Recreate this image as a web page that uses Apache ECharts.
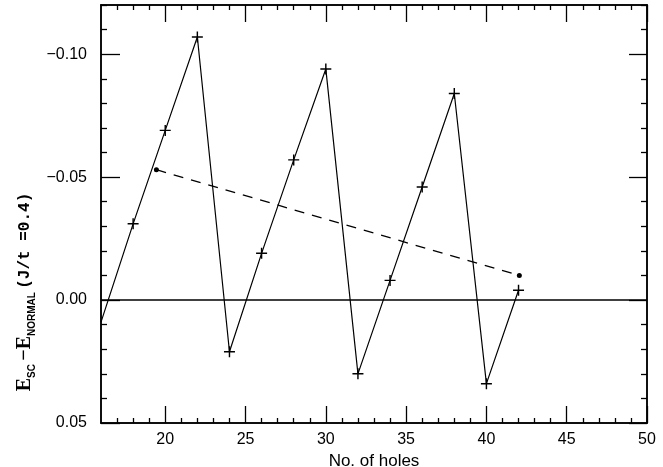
<!DOCTYPE html>
<html>
<head>
<meta charset="utf-8">
<script src="https://cdn.jsdelivr.net/npm/echarts@6/dist/echarts.min.js"></script>
<style>html,body{margin:0;padding:0;background:#fff}#c{width:663px;height:467px}</style>
</head>
<body>
<div id="c"></div>
<script>
// ---- data ----
const holes = [16, 18, 20, 22, 24, 26, 28, 30, 32, 34, 36, 38, 40, 42];
const energy = [0.009, -0.031, -0.069, -0.107, 0.021, -0.019, -0.057, -0.094, 0.030, -0.008, -0.046, -0.084, 0.034, -0.004];
const dashHoles = [19.45, 42.05];
const dashEnergy = [-0.053, -0.010];
const xMajor = [20, 25, 30, 35, 40, 45, 50];
const xMinor = [17, 18, 19, 21, 22, 23, 24, 26, 27, 28, 29, 31, 32, 33, 34, 36, 37, 38, 39, 41, 42, 43, 44, 46, 47, 48, 49];
const yMajor = [-0.10, -0.05, 0.00, 0.05];
const yMinor = [-0.12, -0.11, -0.09, -0.08, -0.07, -0.06, -0.04, -0.03, -0.02, -0.01, 0.01, 0.02, 0.03, 0.04];

const chart = echarts.init(document.getElementById('c'), null, {renderer: 'canvas'});
const black = '#000';
const plus = 'path://M4,0h1.2v4h4v1.2h-4v4h-1.2v-4h-4v-1.2h4z';

function xAx(pos, ticks, len, labels, extra) {
  return Object.assign({
    type: 'value', min: 16, max: 50, position: pos,
    axisLine: {show: true, onZero: false, lineStyle: {color: black, width: 1.5}},
    axisTick: {show: true, inside: true, length: len, customValues: ticks, lineStyle: {color: black, width: 1.3}},
    axisLabel: labels ? {show: true, customValues: xMajor, color: black, fontFamily: 'Liberation Sans', fontSize: 16, margin: 9} : {show: false},
    splitLine: {show: false}
  }, extra || {});
}
function yAx(pos, ticks, len, labels) {
  return {
    type: 'value', min: -0.12, max: 0.05, inverse: true, position: pos,
    axisLine: {show: true, onZero: false, lineStyle: {color: black, width: 1.5}},
    axisTick: {show: true, inside: true, length: len, customValues: ticks, lineStyle: {color: black, width: 1.3}},
    axisLabel: labels ? {show: true, customValues: yMajor, color: black, fontFamily: 'Liberation Sans', fontSize: 16, margin: 14,
      formatter: v => (v < 0 ? '\u2212' : '') + Math.abs(v).toFixed(2)} : {show: false},
    splitLine: {show: false}
  };
}

const mainData = holes.map((h, i) => i === 0 ? {value: [h, energy[i]], symbol: 'none'} : [h, energy[i]]);
const dashData = dashHoles.map((h, i) => [h, dashEnergy[i]]);

chart.setOption({
  animation: false,
  backgroundColor: '#fff',
  grid: {left: 101, right: 16, top: 5, bottom: 44, containLabel: false, outerBoundsMode: 'none'},
  xAxis: [
    xAx('bottom', xMajor, 17, true, {name: 'No. of holes', nameLocation: 'middle', nameGap: 26,
      nameTextStyle: {color: black, fontFamily: 'Liberation Sans', fontSize: 17}}),
    xAx('bottom', xMinor, 5, false),
    xAx('top', xMajor, 17, false),
    xAx('top', xMinor, 5, false)
  ],
  yAxis: [
    yAx('left', yMajor, 19, true),
    yAx('left', yMinor, 6, false),
    yAx('right', yMajor, 18, false),
    yAx('right', yMinor, 6, false)
  ],
  graphic: [{
    type: 'text', x: 25, y: 292, rotation: Math.PI / 2, silent: true,
    style: {
      text: '{e|E}{s|SC} {e|\u2212E}{s|NORMAL} {p|(J/t =0.4)}',
      align: 'center', verticalAlign: 'middle', fill: black,
      rich: {
        e: {fontFamily: 'Liberation Serif', fontWeight: 'bold', fontSize: 20, lineHeight: 24, fill: black},
        s: {fontFamily: 'Liberation Sans', fontWeight: 'bold', fontSize: 10, lineHeight: 24, verticalAlign: 'bottom', fill: black},
        p: {fontFamily: 'Liberation Mono', fontWeight: 'bold', fontSize: 16, lineHeight: 24, fill: black}
      }
    }
  }],
  series: [
    {
      type: 'line', xAxisIndex: 0, yAxisIndex: 0, data: mainData,
      symbol: plus, symbolSize: 11, showSymbol: true,
      itemStyle: {color: black},
      lineStyle: {color: black, width: 1.2},
      markLine: {
        silent: true, symbol: ['none', 'none'], label: {show: false},
        lineStyle: {color: black, width: 1.6, type: 'solid'},
        data: [{yAxis: 0}]
      },
      z: 3
    },
    {
      type: 'line', xAxisIndex: 0, yAxisIndex: 0, data: dashData,
      symbol: 'circle', symbolSize: 5, showSymbol: true,
      itemStyle: {color: black},
      lineStyle: {color: black, width: 1.3, type: [10, 8]},
      z: 2
    }
  ]
});
</script>
</body>
</html>
